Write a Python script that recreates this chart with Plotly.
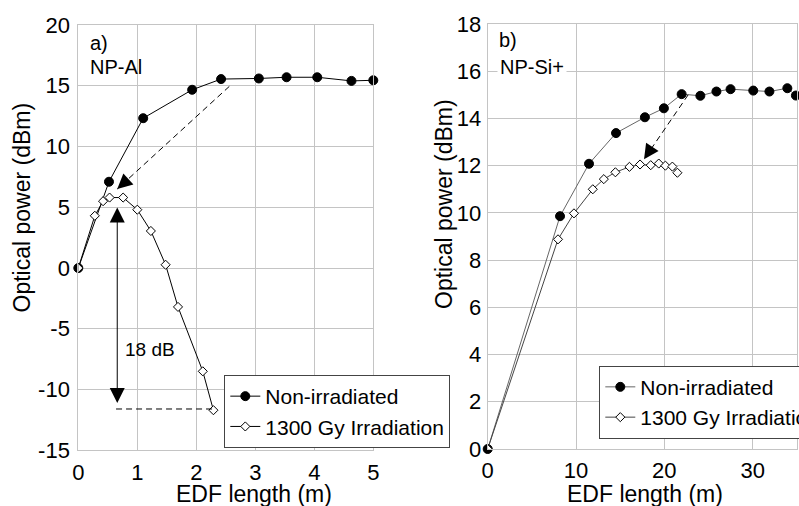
import plotly.graph_objects as go

# ---- data: panel a) NP-Al ----
a_non_x = [0, 0.52, 1.10, 1.93, 2.42, 3.06, 3.53, 4.05, 4.63, 5.0]
a_non_y = [0, 7.1, 12.33, 14.67, 15.55, 15.6, 15.7, 15.7, 15.4, 15.45]
a_irr_x = [0, 0.28, 0.42, 0.53, 0.76, 1.0, 1.23, 1.48, 1.69, 2.11, 2.29]
a_irr_y = [0, 4.3, 5.5, 5.8, 5.8, 4.8, 3.05, 0.27, -3.2, -8.5, -11.7]

# ---- data: panel b) NP-Si+ ----
b_non_x = [0, 8.19, 11.47, 14.53, 17.8, 19.95, 21.96, 24.08, 25.9, 27.5, 30.07, 31.9, 33.93, 34.9]
b_non_y = [0, 9.86, 12.08, 13.38, 14.05, 14.43, 15.03, 14.96, 15.14, 15.24, 15.18, 15.14, 15.28, 14.97]
b_irr_x = [0, 7.96, 9.77, 11.9, 13.15, 14.46, 16.05, 17.25, 18.46, 19.37, 20.12, 20.91, 21.48]
b_irr_y = [0, 8.88, 9.98, 11.0, 11.43, 11.72, 11.95, 12.05, 12.02, 12.09, 12.0, 11.96, 11.7]

series_names = ["Non-irradiated", "1300 Gy Irradiation"]
a_xticks = [0, 1, 2, 3, 4, 5]
a_yticks = [-15, -10, -5, 0, 5, 10, 15, 20]
b_xticks = [0, 10, 20, 30]
b_yticks = [0, 2, 4, 6, 8, 10, 12, 14, 16, 18]

# annotation geometry (data coords)
a_dash_arrow = [(2.56, 14.95), (0.66, 6.5)]
a_gain_arrow = [(0.66, 5.1), (0.66, -11.1)]
a_level_line = [(0.64, -11.6), (2.29, -11.6)]
b_dash_arrow = [(22.7, 15.0), (17.7, 12.27)]

FONT = "Liberation Sans, Arial, Helvetica, sans-serif"
GRID = "#c4c4c4"
W, H = 799, 506


def px(xp):
    return xp / W


def py(yp):
    return 1 - yp / H


def lbl(v):
    return [str(t) for t in v]


fig = go.Figure()

circle = dict(symbol="circle", size=9, color="black", line=dict(color="black", width=1))
diamond = dict(symbol="diamond", size=7, color="white", line=dict(color="black", width=1))

fig.add_trace(go.Scatter(x=a_non_x, y=a_non_y, mode="lines+markers", name=series_names[0],
                         line=dict(color="black", width=1), marker=circle,
                         xaxis="x", yaxis="y", legend="legend", cliponaxis=False))
fig.add_trace(go.Scatter(x=a_irr_x, y=a_irr_y, mode="lines+markers", name=series_names[1],
                         line=dict(color="black", width=1), marker=diamond,
                         xaxis="x", yaxis="y", legend="legend"))
fig.add_trace(go.Scatter(x=b_non_x, y=b_non_y, mode="lines+markers", name=series_names[0],
                         line=dict(color="#666666", width=1), marker=circle,
                         xaxis="x2", yaxis="y2", legend="legend2", cliponaxis=False))
fig.add_trace(go.Scatter(x=b_irr_x, y=b_irr_y, mode="lines+markers", name=series_names[1],
                         line=dict(color="#444444", width=1), marker=diamond,
                         xaxis="x2", yaxis="y2", legend="legend2"))

axis_common = dict(showgrid=True, gridcolor=GRID, gridwidth=1, zeroline=False,
                   showline=True, mirror=True, linecolor=GRID, linewidth=1,
                   ticks="outside", tickcolor="rgba(0,0,0,0)",
                   tickfont=dict(family=FONT, size=22, color="black"))

fig.update_layout(
    width=W, height=H,
    margin=dict(l=0, r=0, t=0, b=0, autoexpand=False),
    paper_bgcolor="white", plot_bgcolor="white",
    font=dict(family=FONT, color="black"),
    xaxis=dict(domain=[px(78.3), px(373.3)], range=[0, 5], tickvals=a_xticks,
               ticktext=lbl(a_xticks), ticklen=2, **axis_common),
    yaxis=dict(domain=[py(450.3), py(25)], range=[-15, 20], tickvals=a_yticks,
               ticktext=lbl(a_yticks), ticklen=3, **axis_common),
    xaxis2=dict(domain=[px(487.7), px(796.8)], range=[0, 35], tickvals=b_xticks,
                ticktext=lbl(b_xticks), ticklen=2, anchor="y2", **axis_common),
    yaxis2=dict(domain=[py(449), py(24)], range=[0, 18], tickvals=b_yticks,
                ticktext=lbl(b_yticks), ticklen=1, anchor="x2", **axis_common),
    legend=dict(x=px(224.3), y=py(375), xanchor="left", yanchor="top", bgcolor="white",
                bordercolor="#444444", borderwidth=1, font=dict(family=FONT, size=21),
                itemwidth=30, tracegroupgap=0),
    legend2=dict(x=px(599.3), y=py(365.7), xanchor="left", yanchor="top", bgcolor="white",
                 bordercolor="#444444", borderwidth=1, font=dict(family=FONT, size=21),
                 itemwidth=30, tracegroupgap=0),
    showlegend=True,
)

# dashed lines
for (p0, p1), xr, yr in [(a_dash_arrow, "x", "y"), (a_level_line, "x", "y"), (b_dash_arrow, "x2", "y2")]:
    fig.add_shape(type="line", x0=p0[0], y0=p0[1], x1=p1[0], y1=p1[1], xref=xr, yref=yr,
                  line=dict(color="black", width=1, dash="6px,4px"))

# arrowheads for dashed arrows
fig.add_annotation(x=a_dash_arrow[1][0], y=a_dash_arrow[1][1], xref="x", yref="y", text="",
                   showarrow=True, arrowhead=2, arrowsize=3, arrowwidth=1, ax=10, ay=-9, arrowcolor="black")
fig.add_annotation(x=b_dash_arrow[1][0], y=b_dash_arrow[1][1], xref="x2", yref="y2", text="",
                   showarrow=True, arrowhead=2, arrowsize=3, arrowwidth=1, ax=8, ay=-12, arrowcolor="black")
# double arrow (18 dB)
fig.add_annotation(x=a_gain_arrow[1][0], y=a_gain_arrow[1][1], xref="x", yref="y",
                   ax=a_gain_arrow[0][0], ay=a_gain_arrow[0][1], axref="x", ayref="y", text="",
                   showarrow=True, arrowhead=2, startarrowhead=2, arrowside="end+start",
                   arrowsize=3, startarrowsize=3, arrowwidth=1, arrowcolor="black")

fig.add_annotation(x=1.22, y=-6.7, xref="x", yref="y", text="18 dB", showarrow=False,
                   font=dict(family=FONT, size=19))
fig.add_annotation(x=0.17, y=18.5, xref="x", yref="y", text="a)", showarrow=False,
                   xanchor="left", font=dict(family=FONT, size=20))
fig.add_annotation(x=0.17, y=16.55, xref="x", yref="y", text="NP-Al", showarrow=False,
                   xanchor="left", font=dict(family=FONT, size=20))
fig.add_annotation(x=1.0, y=17.33, xref="x2", yref="y2", text="b)", showarrow=False,
                   xanchor="left", font=dict(family=FONT, size=20))
fig.add_annotation(x=1.0, y=16.19, xref="x2", yref="y2", text="NP-Si+", showarrow=False,
                   xanchor="left", bgcolor="white", borderpad=2, font=dict(family=FONT, size=20))

# axis titles
for txt, x, y, ang in [("EDF length (m)", px(254), py(494), 0),
                       ("EDF length (m)", px(645), py(494), 0),
                       ("Optical power (dBm)", px(22), py(207.5), -90),
                       ("Optical power (dBm)", px(444), py(204), -90)]:
    fig.add_annotation(x=x, y=y, xref="paper", yref="paper", text=txt, showarrow=False,
                       textangle=ang, xanchor="center", yanchor="middle",
                       font=dict(family=FONT, size=23, color="black"))

fig.write_html("out.html", config={"displayModeBar": False},
               post_script="document.body.style.margin='0px';")
